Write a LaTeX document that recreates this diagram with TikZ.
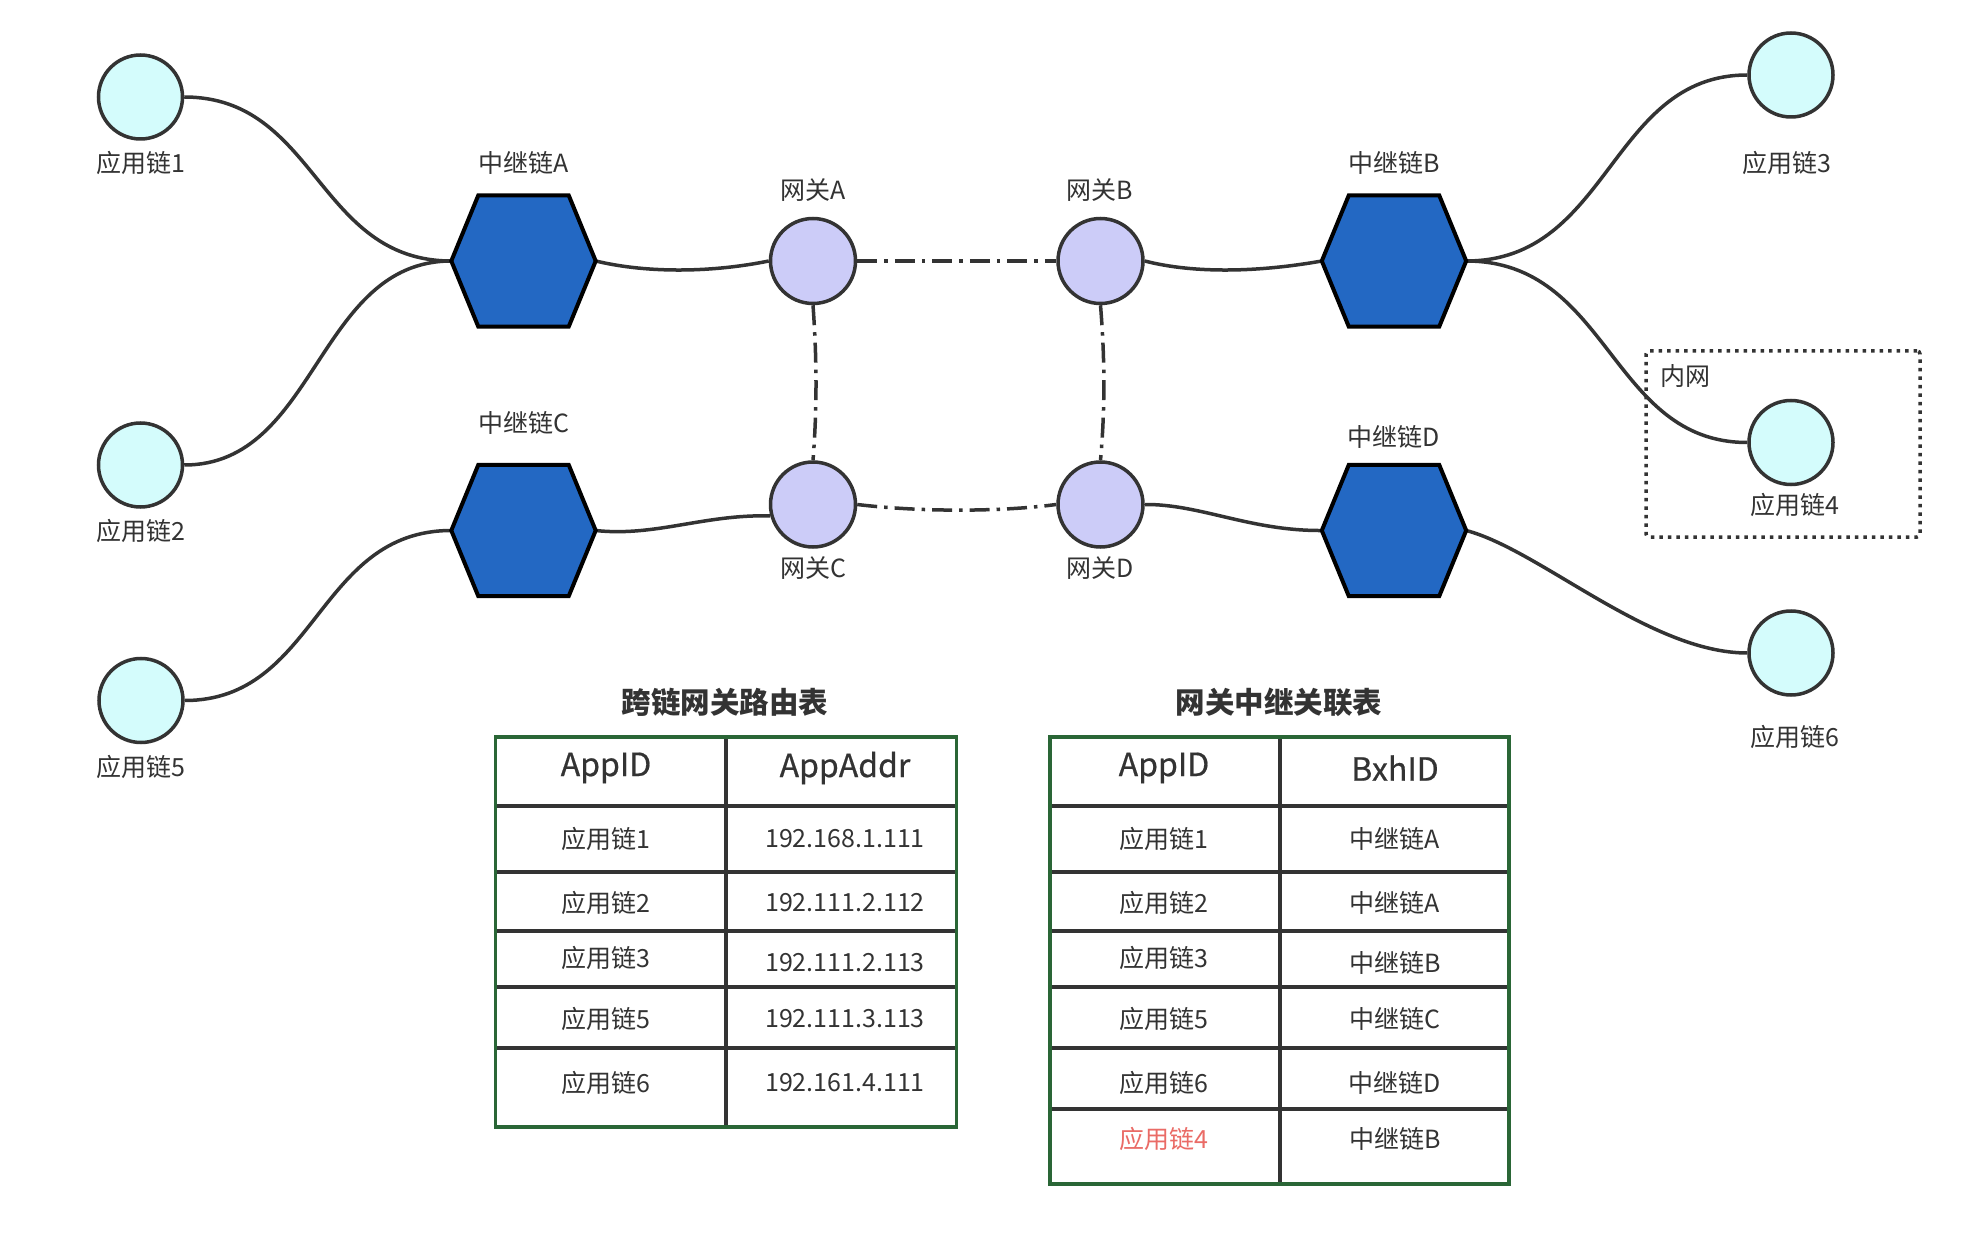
\documentclass[tikz,border=0pt]{standalone}
\usepackage{fontspec}
\setmainfont{Noto Sans CJK SC}
\newfontfamily\hdrfamily[FakeBold=0.6]{Noto Sans CJK SC}
\pgfdeclarelayer{bg}
\pgfdeclarelayer{conns}
\pgfsetlayers{bg,conns,main}
\definecolor{lncol}{RGB}{51,51,51}
\definecolor{txtcol}{RGB}{51,51,51}
\definecolor{appfill}{RGB}{212,252,252}
\definecolor{gwfill}{RGB}{204,204,248}
\definecolor{hexfill}{RGB}{35,104,195}
\definecolor{tgreen}{RGB}{42,102,54}
\definecolor{redtxt}{RGB}{234,107,102}
\newcommand\hexpoly[1]{\draw[hexline] (#1.west) -- ([xshift=27pt]#1.north west) -- ([xshift=-27pt]#1.north east) -- (#1.east) -- ([xshift=-27pt]#1.south east) -- ([xshift=27pt]#1.south west) -- cycle;}
\tikzset{
  every node/.style={text=txtcol, font=\fontsize{25}{30}\selectfont},
  appc/.style={circle, draw=lncol, line width=3.5pt, fill=appfill, minimum size=84pt, inner sep=0pt},
  gwc/.style={circle, draw=lncol, line width=3.5pt, fill=gwfill, minimum size=85pt, inner sep=0pt},
  hexbox/.style={minimum width=144pt, minimum height=131pt, inner sep=0pt},
  hexline/.style={draw=black, line width=4pt, fill=hexfill, line join=miter},
  conn/.style={draw=lncol, line width=3.5pt},
  dashdot/.style={draw=lncol, line width=3.5pt, dash pattern=on 20pt off 7pt on 3.5pt off 7pt},
  lbl/.style={inner sep=0pt},
  dotbox/.style={draw=lncol, line width=3.5pt, dash pattern=on 3.5pt off 5pt, rounded corners=3pt, minimum width=274pt, minimum height=186pt, inner sep=0pt},
  rowline/.style={draw=lncol, line width=4pt},
  tborder/.style={draw=tgreen, line width=3.5pt},
  hdr/.style={inner sep=0pt, font=\hdrfamily\fontsize{32}{38}\selectfont},
  cell/.style={inner sep=0pt},
  ttl/.style={inner sep=0pt, font=\fontsize{29.5}{34}\selectfont\bfseries}
}
\begin{document}
\begin{tikzpicture}[x=1pt,y=-1pt]
\begin{pgfonlayer}{bg}
\fill[white] (0,0) rectangle (1966,1238);
\end{pgfonlayer}
\useasboundingbox (0,0) rectangle (1966,1238);

% inner network box
\node[dotbox] (inner) at (1783,444) {};
\node[lbl, anchor=west] (nw) at (1660,376) {内网};

% app chains
\node[appc] (a1) at (140.5,97) {};
\node[appc] (a2) at (140.5,465) {};
\node[appc] (a5) at (141,700.5) {};
\node[appc] (a3) at (1791,75) {};
\node[appc] (a4) at (1791,442.5) {};
\node[appc] (a6) at (1791,653) {};

% gateways
\node[gwc] (gA) at (813,261) {};
\node[gwc] (gB) at (1100.5,261) {};
\node[gwc] (gC) at (813,504.5) {};
\node[gwc] (gD) at (1100.5,504.5) {};

% relay hexagons
\node[hexbox] (hA) at (523.5,261) {};
\node[hexbox] (hC) at (523.5,530.5) {};
\node[hexbox] (hB) at (1394,261) {};
\node[hexbox] (hD) at (1394,530.5) {};
\hexpoly{hA}
\hexpoly{hB}
\hexpoly{hC}
\hexpoly{hD}

% labels
\node[lbl] (la1) at (141,163) {应用链1};
\node[lbl] (la2) at (141,531) {应用链2};
\node[lbl] (la5) at (141,767) {应用链5};
\node[lbl] (la3) at (1787,163) {应用链3};
\node[lbl] (la4) at (1795,505) {应用链4};
\node[lbl] (la6) at (1795,737) {应用链6};
\node[lbl] (lhA) at (524,163) {中继链A};
\node[lbl] (lhC) at (524,423) {中继链C};
\node[lbl] (lhB) at (1394,163) {中继链B};
\node[lbl] (lhD) at (1394,437) {中继链D};
\node[lbl] (lgA) at (813,190) {网关A};
\node[lbl] (lgB) at (1100,190) {网关B};
\node[lbl] (lgC) at (813,568) {网关C};
\node[lbl] (lgD) at (1100,568) {网关D};

% connectors
\begin{pgfonlayer}{conns}
\draw[conn] (a1.east) .. controls (317,97) and (317,261) .. (hA.west);
\draw[conn] (a2.east) .. controls (317,465) and (317,261) .. (hA.west);
\draw[conn] (a5.east) .. controls (317,700.5) and (317,530.5) .. (hC.west);
\draw[conn] (hA.east) .. controls (650,274) and (715,272) .. (gA.west);
\draw[conn] (hC.east) .. controls (655,537) and (705,514) .. (gC.195);
\draw[conn] (gB.east) .. controls (1195,274) and (1260,272) .. (hB.west);
\draw[conn] (gD.east) .. controls (1200,504) and (1250,531) .. (hD.west);
\draw[conn] (hB.east) .. controls (1610,261) and (1610,75) .. (a3.west);
\draw[conn] (hB.east) .. controls (1610,261) and (1610,442.5) .. (a4.west);
\draw[conn] (hD.east) .. controls (1540,550) and (1650,653) .. (a6.west);
\draw[dashdot] (gA.east) -- (gB.west);
\draw[dashdot] (gA.south) .. controls (817,360) and (817,410) .. (gC.north);
\draw[dashdot] (gB.south) .. controls (1105,360) and (1105,410) .. (gD.north);
\draw[dashdot] (gC.east) .. controls (920,512) and (1000,512) .. (gD.west);
\end{pgfonlayer}

% table 1
\node[ttl] (t1) at (725,702.5) {跨链网关路由表};
\foreach \yy in {805.6,872,931,986.5,1047.5}
  \draw[rowline] (495.6,\yy) -- (956.5,\yy);
\draw[rowline] (726.4,737) -- (726.4,1127);
\draw[tborder] (495.6,737) rectangle (956.5,1127);
\node[hdr] (t1h1) at (606,768) {AppID};
\node[hdr] (t1h2) at (845,768) {AppAddr};
\node[cell] (t1r1a) at (606,839) {应用链1};
\node[cell] (t1r1b) at (845,839) {192.168.1.111};
\node[cell] (t1r2a) at (606,903) {应用链2};
\node[cell] (t1r2b) at (845,903) {192.111.2.112};
\node[cell] (t1r3a) at (606,957.5) {应用链3};
\node[cell] (t1r3b) at (845,963) {192.111.2.113};
\node[cell] (t1r4a) at (606,1019) {应用链5};
\node[cell] (t1r4b) at (845,1019) {192.111.3.113};
\node[cell] (t1r5a) at (606,1083) {应用链6};
\node[cell] (t1r5b) at (845,1083) {192.161.4.111};

% table 2
\node[ttl] (t2) at (1279,702.5) {网关中继关联表};
\foreach \yy in {805.6,872,931,986.5,1047.5,1109}
  \draw[rowline] (1049.8,\yy) -- (1509,\yy);
\draw[rowline] (1280,737) -- (1280,1184);
\draw[tborder] (1049.8,737) rectangle (1509,1184);
\node[hdr] (t2h1) at (1164,768) {AppID};
\node[hdr] (t2h2) at (1395,768) {BxhID};
\node[cell] (t2r1a) at (1164,839) {应用链1};
\node[cell] (t2r1b) at (1395,839) {中继链A};
\node[cell] (t2r2a) at (1164,903) {应用链2};
\node[cell] (t2r2b) at (1395,903) {中继链A};
\node[cell] (t2r3a) at (1164,957.5) {应用链3};
\node[cell] (t2r3b) at (1395,963) {中继链B};
\node[cell] (t2r4a) at (1164,1019) {应用链5};
\node[cell] (t2r4b) at (1395,1019) {中继链C};
\node[cell] (t2r5a) at (1164,1083) {应用链6};
\node[cell] (t2r5b) at (1395,1083) {中继链D};
\node[cell, text=redtxt] (t2r6a) at (1164,1139) {应用链4};
\node[cell] (t2r6b) at (1395,1139) {中继链B};
\end{tikzpicture}
\end{document}
